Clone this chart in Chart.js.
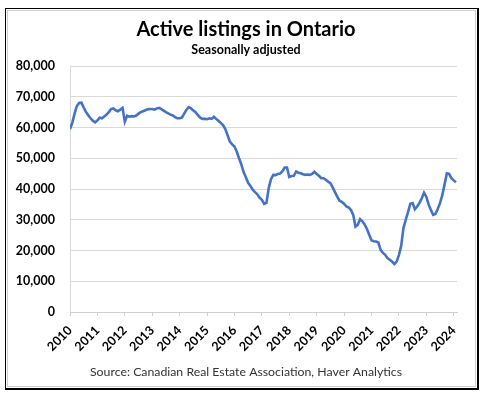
<!DOCTYPE html>
<html>
<head>
<meta charset="utf-8">
<script src="https://cdn.jsdelivr.net/npm/chart.js@4"></script>
<style>
  html, body { margin: 0; padding: 0; background: #fff; }
  body { width: 486px; height: 396px; position: relative; overflow: hidden; }
  #frame { position: absolute; left: 5px; top: 8px; width: 474px; height: 382px; box-sizing: border-box;
           border-top: 1px solid #000; border-left: 1px solid #000; border-right: 2px solid #000; border-bottom: 2px solid #000; }
  #inner { position: absolute; left: 1px; top: 1px; right: 1px; bottom: 1px; border: 1px solid #cfcfcf; }
  #wrap { position: absolute; left: 0; top: 0; width: 486px; height: 396px; }
</style>
</head>
<body>
<div id="frame"><div id="inner"></div></div>
<div id="wrap"><canvas id="c" width="486" height="396"></canvas></div>
<script>
const titleText = "Active listings in Ontario";
const subtitleText = "Seasonally adjusted";
const sourceText = "Source: Canadian Real Estate Association, Haver Analytics";

const startYear = 2010;
const yearTicks = [2010, 2011, 2012, 2013, 2014, 2015, 2016, 2017, 2018, 2019, 2020, 2021, 2022, 2023, 2024];
const yTicks = [0, 10000, 20000, 30000, 40000, 50000, 60000, 70000, 80000];

// Monthly active listings (thousands), Jan 2010 .. Feb 2024
const listings2010 = [59.5, 61.5, 64.5, 67.0, 68.0, 68.1, 66.5, 65.0, 64.0, 63.0, 62.2, 61.7];
const listings2011 = [62.3, 63.2, 63.0, 63.6, 64.2, 65.0, 66.0, 66.2, 65.6, 65.3, 65.8, 66.4];
const listings2012 = [61.9, 63.8, 63.5, 63.7, 63.6, 63.9, 64.5, 65.0, 65.3, 65.6, 65.9, 66.0];
const listings2013 = [66.0, 65.8, 66.2, 66.4, 66.0, 65.5, 65.0, 64.6, 64.2, 63.9, 63.4, 63.0];
const listings2014 = [63.0, 63.2, 64.5, 65.8, 66.6, 66.2, 65.5, 65.0, 64.0, 63.2, 62.8, 62.8];
const listings2015 = [62.7, 63.0, 62.8, 63.5, 62.8, 62.2, 61.5, 60.8, 59.5, 57.5, 55.4, 54.5];
const listings2016 = [53.8, 52.2, 50.0, 48.0, 45.5, 43.8, 42.0, 41.0, 39.8, 39.0, 38.3, 37.2];
const listings2017 = [36.5, 35.2, 35.5, 40.3, 43.2, 44.6, 44.5, 44.9, 45.0, 45.8, 47.0, 47.0];
const listings2018 = [43.9, 44.2, 44.3, 45.7, 45.3, 45.1, 44.8, 44.6, 44.7, 44.6, 44.9, 45.6];
const listings2019 = [44.9, 44.3, 43.5, 43.5, 43.0, 42.4, 41.9, 40.5, 39.0, 37.5, 36.2, 35.8];
const listings2020 = [35.2, 34.3, 34.0, 33.2, 31.6, 27.8, 28.4, 30.2, 29.5, 28.5, 27.0, 25.1];
const listings2021 = [23.3, 23.0, 22.9, 22.6, 20.2, 19.2, 18.6, 17.5, 17.0, 16.4, 15.6, 16.4];
const listings2022 = [18.5, 21.5, 27.3, 30.0, 32.5, 35.2, 35.4, 33.4, 34.3, 35.5, 37.0, 38.8];
const listings2023 = [37.5, 35.0, 33.2, 31.6, 31.9, 33.5, 35.4, 38.0, 41.5, 45.1, 44.9, 43.5];
const listings2024 = [42.8, 42.2];

const yearly = [listings2010, listings2011, listings2012, listings2013, listings2014, listings2015,
  listings2016, listings2017, listings2018, listings2019, listings2020, listings2021,
  listings2022, listings2023, listings2024];

const points = [];
yearly.forEach((arr, yi) => {
  arr.forEach((v, m) => {
    points.push({ x: startYear + yi + m / 12, y: v * 1000 });
  });
});

const textPlugin = {
  id: 'chartTexts',
  afterDraw(chart) {
    const ctx = chart.ctx;
    ctx.save();
    ctx.textAlign = 'center';
    ctx.textBaseline = 'middle';
    ctx.fillStyle = '#000';
    ctx.font = 'bold 20px Lato';
    ctx.fillText(titleText, 246, 30);
    ctx.font = 'bold 12.5px Lato';
    ctx.fillText(subtitleText, 246, 50);
    ctx.font = '12.3px Lato';
    ctx.fillStyle = '#333';
    ctx.fillText(sourceText, 246, 372);
    ctx.restore();
  }
};

new Chart(document.getElementById('c'), {
  type: 'line',
  data: {
    datasets: [{
      data: points,
      borderColor: '#4472C4',
      borderWidth: 2.6,
      pointRadius: 0,
      tension: 0,
      fill: false
    }]
  },
  options: {
    responsive: false,
    animation: false,
    events: [],
    layout: { padding: { top: 66, right: 29, bottom: 10, left: 0 } },
    plugins: {
      legend: { display: false },
      tooltip: { enabled: false },
      title: { display: false },
      subtitle: { display: false }
    },
    scales: {
      x: {
        type: 'linear',
        min: 2010, max: 2024.12,
        afterFit: (s) => { s.height = 74; },
        afterBuildTicks: (s) => { s.ticks = yearTicks.map(v => ({ value: v })); },
        ticks: {
          autoSkip: false, includeBounds: false, stepSize: 1,
          maxRotation: 45, minRotation: 45, padding: 7,
          color: '#000', font: { family: 'Lato', weight: 'bold', size: 12.5 },
          callback: (v) => String(v)
        },
        grid: { drawOnChartArea: false, drawTicks: true, tickLength: 4, color: '#d0d0d0', lineWidth: 1 },
        border: { display: true, color: '#d0d0d0', width: 1 }
      },
      y: {
        min: 0, max: 80000,
        afterFit: (s) => { s.width = 70; },
        afterBuildTicks: (s) => { s.ticks = yTicks.map(v => ({ value: v })); },
        ticks: {
          stepSize: 10000, padding: 15, color: '#000',
          font: { family: 'Lato', weight: 'bold', size: 12.5 },
          callback: (v) => v.toLocaleString('en-US')
        },
        grid: { drawTicks: false, color: '#d9d9d9', lineWidth: 1 },
        border: { display: true, color: '#d9d9d9', width: 1 }
      }
    }
  },
  plugins: [textPlugin]
});
</script>
</body>
</html>
